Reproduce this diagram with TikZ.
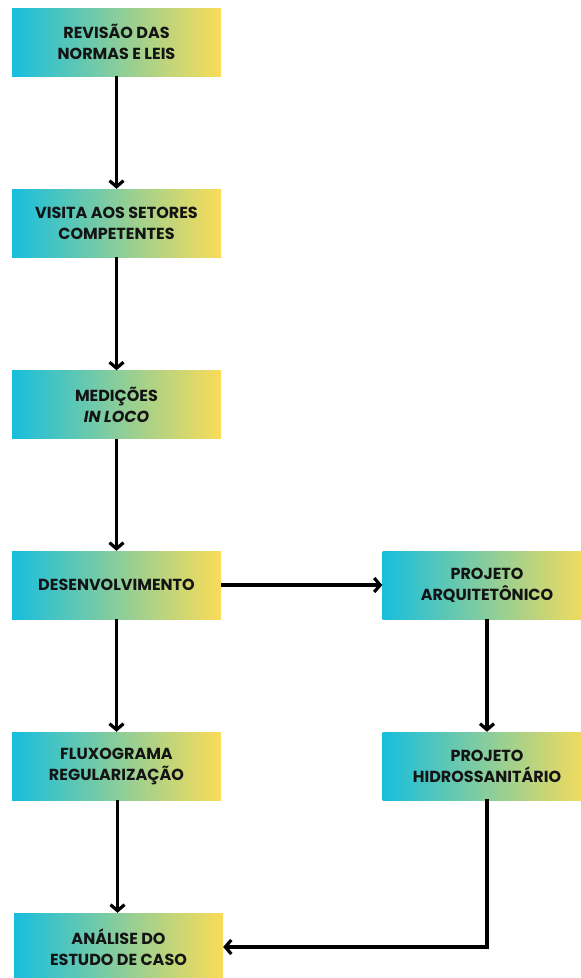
\documentclass[tikz,border=0pt]{standalone}
\usepackage{fontspec}
\setmainfont{Poppins}
\usetikzlibrary{arrows.meta}
\definecolor{gcyan}{RGB}{24,190,222}
\definecolor{gyellow}{RGB}{250,220,88}
\definecolor{txt}{RGB}{20,20,20}
\tikzset{
  stepbox/.style={shade, left color=gcyan, right color=gyellow, draw=none,
    minimum width=209pt, minimum height=68pt, inner sep=0pt, align=center,
    text=txt, font=\bfseries\fontsize{16}{21}\selectfont},
  conn/.style={line width=3.2pt, draw=black, -{Straight Barb[length=6pt,width=14pt,line width=3.2pt]}}
}
\begin{document}
\begin{tikzpicture}[x=1pt,y=-1pt]
\useasboundingbox (0,0) rectangle (581,978);
\clip (0,0) rectangle (581,978);
\fill[white] (0,0) rectangle (581,978);
\node[stepbox] (a) at (116.5,42) {REVISÃO DAS\\NORMAS E LEIS};
\node[stepbox] (b) at (116.5,223) {VISITA AOS SETORES\\COMPETENTES};
\node[stepbox] (c) at (116.5,404.5) {MEDIÇÕES\\\textit{IN LOCO}};
\node[stepbox] (d) at (116.5,585) {DESENVOLVIMENTO};
\node[stepbox] (e) at (116.5,766) {FLUXOGRAMA\\REGULARIZAÇÃO};
\node[stepbox] (f) at (118.5,947) {ANÁLISE DO\\ESTUDO DE CASO};
\node[stepbox] (g) at (487,585) {PROJETO\\ARQUITETÔNICO};
\node[stepbox] (h) at (487,766) {PROJETO\\HIDROSSANITÁRIO};
\draw[conn] (a.south) -- (b.north);
\draw[conn] (b.south) -- (c.north);
\draw[conn] (c.south) -- (d.north);
\draw[conn] (d.south) -- (e.north);
\draw[conn] ([xshift=1pt]e.south) -- ([xshift=1pt]e.south |- f.north);
\draw[conn] (d.east) -- (g.west);
\draw[conn] (g.south) -- (h.north);
\coordinate (corner) at (h.south |- f.east);
\draw[conn, -, line cap=rect] (h.south) -- (corner);
\draw[conn] (corner) -- (f.east);
\end{tikzpicture}
\end{document}
